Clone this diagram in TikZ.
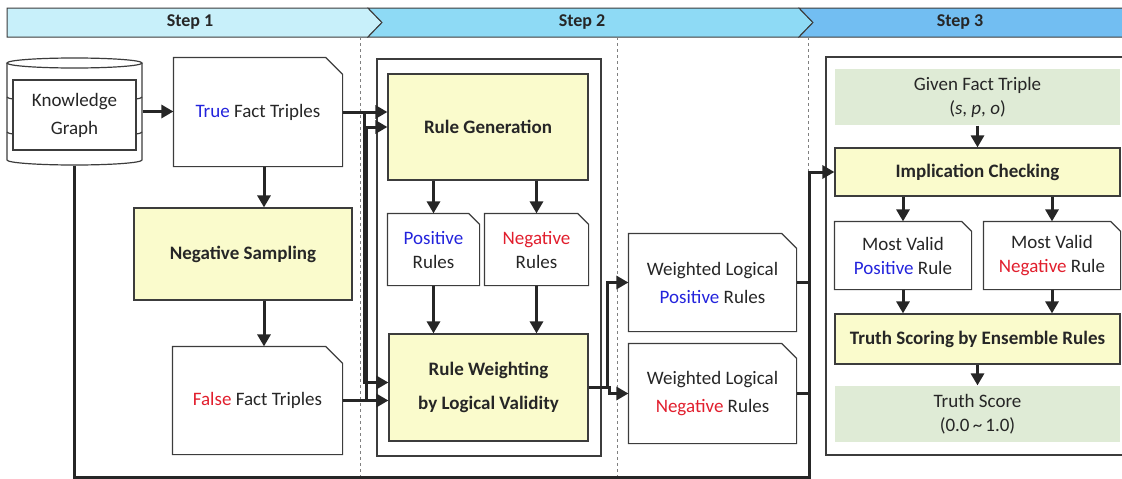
\documentclass[tikz,border=0pt]{standalone}
\usepackage{fontspec}
\setmainfont{Carlito}
\usetikzlibrary{%
  arrows.meta,%
  positioning,%
  calc%
}

\definecolor{posblue}{RGB}{35,35,220}
\definecolor{negred}{RGB}{225,30,45}
\definecolor{procyellow}{RGB}{250,251,204}
\definecolor{datagreen}{RGB}{223,235,214}
\definecolor{linegray}{RGB}{60,60,60}
\definecolor{textgray}{RGB}{38,38,38}
\definecolor{stepa}{RGB}{200,240,250}
\definecolor{stepb}{RGB}{142,218,245}
\definecolor{stepc}{RGB}{114,190,242}

\begin{document}
\begin{tikzpicture}
  [
  x=1pt, y=-1pt, line width=1.2pt, draw=linegray,
  >={Triangle[length=12pt,width=13pt]},
  every node/.style={font=\fontsize{19}{24}\selectfont, text=textgray},
  box/.style={rectangle, draw=linegray, line width=1.2pt, inner sep=0pt, align=center},
  procbox/.style={box, fill=procyellow, font=\fontsize{19}{24}\selectfont\bfseries},
  databox/.style={box, draw=none, fill=datagreen},
  docbox/.style={rectangle, inner sep=0pt, align=center},
  flow/.style={->, line width=3pt, draw=textgray},
  stepline/.style={dashed, line width=0.7pt, draw=gray}
  ]

  \useasboundingbox (0,0) rectangle (1122,479);

  % step banner
  \draw[line width=1pt, fill=stepa] (7,8) -- (368,8) -- (382,22.5) -- (368,37) -- (7,37) -- cycle;
  \draw[line width=1pt, fill=stepb] (368,8) -- (799,8) -- (813,22.5) -- (799,37) -- (368,37) -- (382,22.5) -- cycle;
  \draw[line width=1pt, fill=stepc] (799,8) -- (1135,8) -- (1135,37) -- (799,37) -- (813,22.5) -- cycle;
  \node[font=\fontsize{18}{23}\selectfont\bfseries] (step1) at (190,22.5) {Step 1};
  \node[font=\fontsize{18}{23}\selectfont\bfseries] (step2) at (582,22.5) {Step 2};
  \node[font=\fontsize{18}{23}\selectfont\bfseries] (step3) at (960,22.5) {Step 3};

  \foreach \x in {360,617,808} {
    \draw[stepline] (\x,37) -- (\x,479);
  }

  % containers
  \draw (377,59) rectangle (601,456);
  \draw (826,57) rectangle (1135,455);

  % knowledge graph database
  \node[minimum width=135pt, minimum height=107pt, inner sep=0pt] (kgdb) at (74.5,111.5) {};
  \draw[fill=white] (7,63) -- (7,160) arc[start angle=180, end angle=360, x radius=67.5pt, y radius=5pt] -- (142,63);
  \draw[fill=white] (74.5,63) ellipse [x radius=67.5pt, y radius=5pt];
  \foreach \y in {97,132} {
    \draw (7,\y) arc[start angle=180, end angle=360, x radius=67.5pt, y radius=5pt];
  }
  \node[box, fill=white, minimum width=123pt, minimum height=70pt] (kg) at (74.5,115) {Knowledge\\[4pt]Graph};

  % step 1
  \node[docbox, minimum width=168pt, minimum height=108pt] (tft) at (258,112) {{\color{posblue}True} Fact Triples};
  \node[procbox, minimum width=218pt, minimum height=92pt] (ns) at (243,254) {Negative Sampling};
  \node[docbox, minimum width=169pt, minimum height=107pt] (fft) at (257.5,400.5) {{\color{negred}False} Fact Triples};

  % step 2
  \node[procbox, minimum width=200pt, minimum height=106pt] (rg) at (488,127) {Rule Generation};
  \node[docbox, minimum width=91pt, minimum height=71pt] (pr) at (433.5,249.5) {{\color{posblue}Positive}\\Rules};
  \node[docbox, minimum width=103pt, minimum height=71pt] (nr) at (536.5,249.5) {{\color{negred}Negative}\\Rules};
  \node[procbox, minimum width=199pt, minimum height=107pt] (rw) at (488.5,387.5) {Rule Weighting\\[10pt]by Logical Validity};
  \node[docbox, minimum width=167pt, minimum height=97pt] (wp) at (712.5,282.5) {Weighted Logical\\[4pt]{\color{posblue}Positive} Rules};
  \node[docbox, minimum width=167pt, minimum height=99pt] (wn) at (712.5,393.5) {Weighted Logical\\[4pt]{\color{negred}Negative} Rules};

  % step 3
  \node[databox, minimum width=285pt, minimum height=56pt] (gft) at (977.5,97) {Given Fact Triple\\(\textit{s}, \textit{p}, \textit{o})};
  \node[procbox, minimum width=285pt, minimum height=48pt] (ic) at (977.5,172) {Implication Checking};
  \node[docbox, minimum width=136pt, minimum height=67pt] (mvp) at (903,255.5) {Most Valid\\{\color{posblue}Positive} Rule};
  \node[docbox, minimum width=136pt, minimum height=67pt] (mvn) at (1052,255.5) {Most Valid\\{\color{negred}Negative} Rule};
  \node[procbox, minimum width=285pt, minimum height=50pt] (ts) at (977.5,339) {Truth Scoring by Ensemble Rules};
  \node[databox, minimum width=285pt, minimum height=56pt] (tsc) at (977.5,414) {Truth Score\\(0.0\,\textasciitilde\,1.0)};

  % document outlines
  \foreach \n/\c in {tft/17,fft/17,pr/11,nr/11,wp/15,wn/15,mvp/10,mvn/10} {
    \draw (\n.south west) -- (\n.north west) -- ([xshift=-\c pt]\n.north east)
      -- ([yshift=-\c pt]\n.north east) -- (\n.south east) -- cycle;
  }

  % connectors
  \draw[flow] (kgdb.east) -- (kgdb.east -| tft.west);
  \draw[flow] ([xshift=6pt]tft.south) -- ([xshift=6pt]tft.south |- ns.north);
  \draw[flow] ([xshift=21pt]ns.south) -- ([xshift=21pt]ns.south |- fft.north);

  \draw[flow] (tft.east) -- (tft.east -| rg.west);
  \draw[flow] (tft.east) -- ++(22,0) |- ([yshift=5pt]rw.west);
  \draw[flow] (fft.east) -- (fft.east -| rw.west);
  \draw[flow] (fft.east) -- ++(24,0) |- (rg.west);

  \draw[flow] (rg.south -| pr.north) -- (pr.north);
  \draw[flow] (rg.south -| nr.north) -- (nr.north);
  \draw[flow] (pr.south) -- (pr.south |- rw.north);
  \draw[flow] (nr.south) -- (nr.south |- rw.north);
  \draw[flow] (rw.east) -- ++(19,0) |- (wp.west);
  \draw[flow] (rw.east) -- ++(21,0) |- (wn.west);

  \coordinate (bus) at (809,477);
  \draw[flow] (kgdb.south) |- (bus) |- (ic.west);
  \draw[flow, -] (wp.east) -- (wp.east -| bus);
  \draw[flow, -] (wn.east) -- (wn.east -| bus);

  \draw[flow] (gft) -- (ic);
  \draw[flow] (ic.south -| mvp.north) -- (mvp.north);
  \draw[flow] (ic.south -| mvn.north) -- (mvn.north);
  \draw[flow] (mvp.south) -- (mvp.south |- ts.north);
  \draw[flow] (mvn.south) -- (mvn.south |- ts.north);
  \draw[flow] (ts) -- (tsc);
\end{tikzpicture}
\end{document}
